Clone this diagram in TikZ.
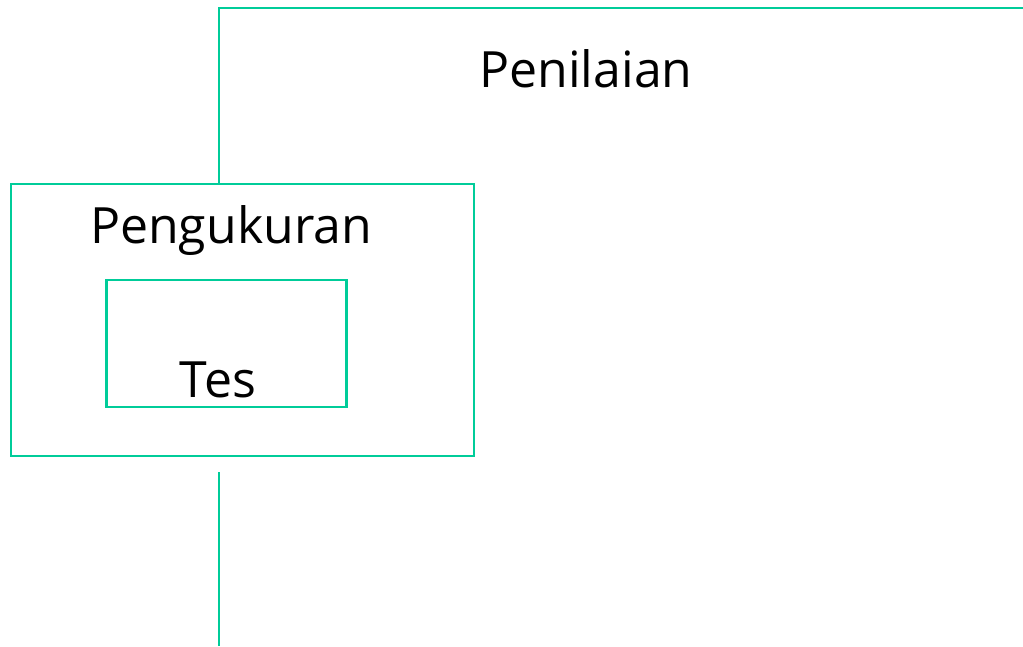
\documentclass[tikz,border=0pt]{standalone}
\usepackage{fontspec}
\setmainfont{Open Sans}
\definecolor{teal}{RGB}{0,204,153}
\begin{document}
\begin{tikzpicture}[x=1pt,y=-1pt,
  ln/.style={draw=teal,line width=2.4pt},
  lbl/.style={font=\fontsize{50}{60}\selectfont,inner sep=0pt,anchor=base}]
\useasboundingbox (0,0) rectangle (1023,646);
\node[lbl] (pen) at (586,87) {Penilaian};
\node[lbl] (pg) at (231,243) {Pengukuran};
\node[lbl] (tes) at (218,397) {Tes};
\coordinate (a) at (219,8);
\coordinate (b) at (1023,8);
\coordinate (c) at (219,184);
\coordinate (d) at (219,472);
\coordinate (e) at (219,646);
\draw[ln] (c) -- (a) -- (b);
\draw[ln] (11,184) rectangle (474,456);
\draw[ln] (106.5,280) rectangle (346.5,407);
\draw[ln] (d) -- (e);
\end{tikzpicture}
\end{document}
